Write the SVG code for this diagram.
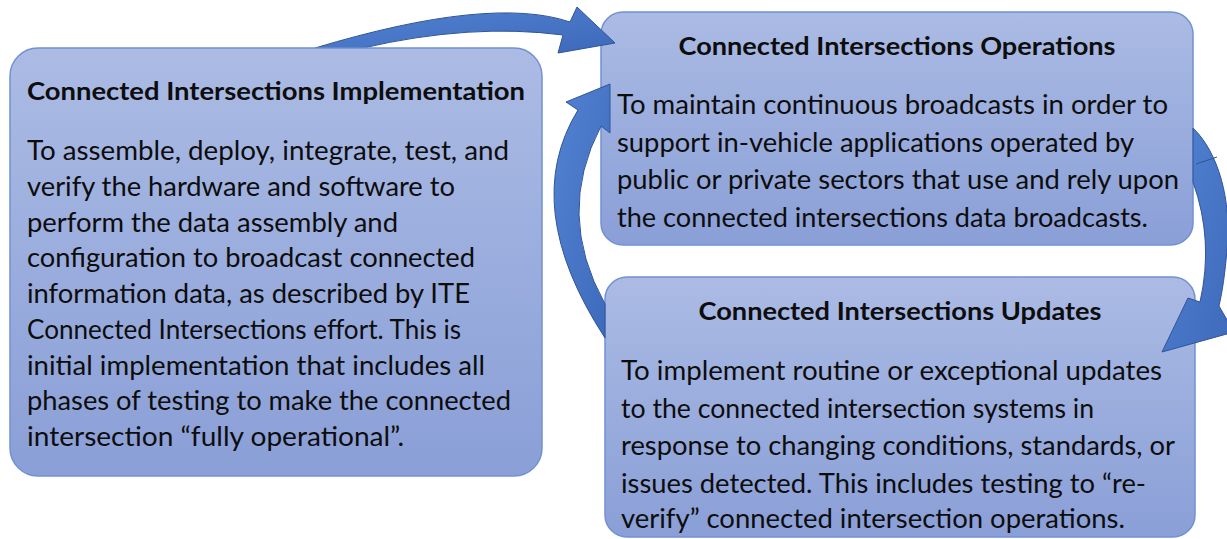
<svg xmlns="http://www.w3.org/2000/svg" width="1227" height="539" viewBox="0 0 1227 539">
  <defs>
    <linearGradient id="boxFill" x1="0" y1="0" x2="0" y2="1">
      <stop offset="0" stop-color="#abbbe4"/>
      <stop offset="1" stop-color="#8a9fd7"/>
    </linearGradient>
    <linearGradient id="arrowFill" x1="0" y1="0" x2="1" y2="1">
      <stop offset="0" stop-color="#5483d3"/>
      <stop offset="1" stop-color="#3d69ba"/>
    </linearGradient>
    <style>
      .box { fill: url(#boxFill); stroke: #7291d2; stroke-width: 1.5; }
      .arrow { fill: url(#arrowFill); stroke: #2f5597; stroke-width: 1; stroke-linejoin: round; }
      .title { font-family: Lato, "Liberation Sans", sans-serif; font-weight: bold; font-size: 25px; fill: #0d0d0d; }
      .body { font-family: Lato, "Liberation Sans", sans-serif; font-size: 26px; fill: #0d0d0d; }
    </style>
  </defs>

  <rect width="1227" height="539" fill="#ffffff"/>

  <!-- Operations node -->
  <g id="node-operations">
    <rect class="box" x="601" y="12" width="592" height="233" rx="22"/>
    <text class="title" x="897" y="55" text-anchor="middle" textLength="437" lengthAdjust="spacingAndGlyphs">Connected Intersections Operations</text>
    <text class="body" x="617" y="114" textLength="551" lengthAdjust="spacingAndGlyphs">To maintain continuous broadcasts in order to</text>
    <text class="body" x="617" y="152" textLength="517" lengthAdjust="spacingAndGlyphs">support in-vehicle applications operated by</text>
    <text class="body" x="617" y="189" textLength="562" lengthAdjust="spacingAndGlyphs">public or private sectors that use and rely upon</text>
    <text class="body" x="617" y="227" textLength="531" lengthAdjust="spacingAndGlyphs">the connected intersections data broadcasts.</text>
  </g>

  <!-- Updates node -->
  <g id="node-updates">
    <rect class="box" x="605" y="277" width="590" height="260" rx="22"/>
    <text class="title" x="900" y="320" text-anchor="middle" textLength="403" lengthAdjust="spacingAndGlyphs">Connected Intersections Updates</text>
    <text class="body" x="621" y="380" textLength="541" lengthAdjust="spacingAndGlyphs">To implement routine or exceptional updates</text>
    <text class="body" x="621" y="418" textLength="473" lengthAdjust="spacingAndGlyphs">to the connected intersection systems in</text>
    <text class="body" x="621" y="455" textLength="554" lengthAdjust="spacingAndGlyphs">response to changing conditions, standards, or</text>
    <text class="body" x="621" y="493" textLength="525" lengthAdjust="spacingAndGlyphs">issues detected. This includes testing to “re-</text>
    <text class="body" x="621" y="528" textLength="504" lengthAdjust="spacingAndGlyphs">verify” connected intersection operations.</text>
  </g>

  <!-- Curved cycle arrows -->
  <g id="connectors">
    <!-- Implementation to Operations -->
    <path class="arrow" d="M 315,48 Q 491,-5 570,22 L 577,7 L 615,43 L 558,53 L 563,35 Q 471,23 363,48 Z"/>
    <!-- Updates back to Operations -->
    <path class="arrow" d="M 605,338 Q 519,206 578,110 L 566,102 L 610,84 L 610,133 L 601,126 Q 555,214 605,304 Z"/>
    <!-- Operations to Updates -->
    <path class="arrow" d="M 1193,128 C 1218,152 1232,200 1227,250 Q 1224,285 1219,306 L 1234,332 L 1162,352 L 1188,298 L 1200,302 Q 1214,240 1193,182 Z"/>
    <line x1="1196" y1="164" x2="1217" y2="157" stroke="#2f5597" stroke-width="1"/>
  </g>

  <!-- Implementation node -->
  <g id="node-implementation">
    <rect class="box" x="10" y="48" width="532" height="428" rx="28"/>
    <text class="title" x="27" y="100" textLength="498" lengthAdjust="spacingAndGlyphs">Connected Intersections Implementation</text>
    <text class="body" x="27" y="160" textLength="482" lengthAdjust="spacingAndGlyphs">To assemble, deploy, integrate, test, and</text>
    <text class="body" x="27" y="196" textLength="428" lengthAdjust="spacingAndGlyphs">verify the hardware and software to</text>
    <text class="body" x="27" y="232" textLength="371" lengthAdjust="spacingAndGlyphs">perform the data assembly and</text>
    <text class="body" x="27" y="267" textLength="448" lengthAdjust="spacingAndGlyphs">configuration to broadcast connected</text>
    <text class="body" x="27" y="303" textLength="443" lengthAdjust="spacingAndGlyphs">information data, as described by ITE</text>
    <text class="body" x="27" y="339" textLength="434" lengthAdjust="spacingAndGlyphs">Connected Intersections effort. This is</text>
    <text class="body" x="27" y="375" textLength="458" lengthAdjust="spacingAndGlyphs">initial implementation that includes all</text>
    <text class="body" x="27" y="410" textLength="484" lengthAdjust="spacingAndGlyphs">phases of testing to make the connected</text>
    <text class="body" x="27" y="446" textLength="377" lengthAdjust="spacingAndGlyphs">intersection “fully operational”.</text>
  </g>
</svg>
